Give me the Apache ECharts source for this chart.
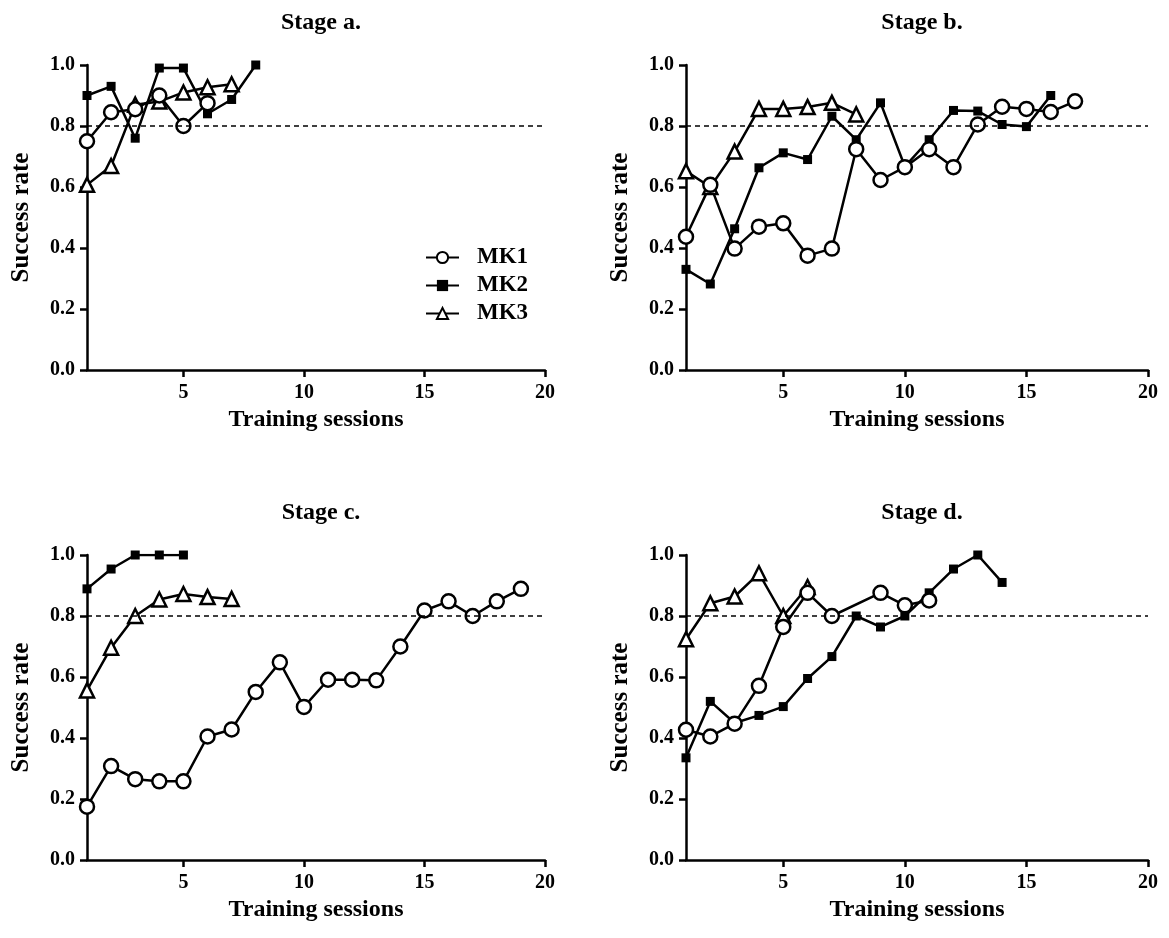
<!DOCTYPE html>
<html lang="en">
<head>
    <meta charset="UTF-8">
    <title>Success rate by stage</title>
    <style>
        body { margin: 0; background: #fff; }
        #chart { width: 1169px; height: 938px; }
    </style>
</head>
<body>
    <div id="chart"></div>
    <script src="https://cdn.jsdelivr.net/npm/echarts@6/dist/echarts.min.js"></script>
    <script>
        // success rate per training session (session 1, 2, 3 ...), null = no session
        const stageA_MK1 = [0.75, 0.845, 0.855, 0.90, 0.80, 0.875];
        const stageA_MK2 = [0.90, 0.93, 0.76, 0.99, 0.99, 0.84, 0.887, 1.0];
        const stageA_MK3 = [0.607, 0.669, 0.87, 0.88, 0.91, 0.927, 0.937];

        const stageB_MK1 = [0.437, 0.607, 0.398, 0.47, 0.481, 0.375, 0.398, 0.724, 0.623, 0.665, 0.724, 0.665, 0.805, 0.863, 0.856, 0.846, 0.881];
        const stageB_MK2 = [0.33, 0.282, 0.463, 0.663, 0.712, 0.69, 0.832, 0.755, 0.876, 0.667, 0.755, 0.851, 0.849, 0.805, 0.798, 0.90];
        const stageB_MK3 = [0.652, 0.60, 0.716, 0.856, 0.856, 0.862, 0.876, 0.838];

        const stageC_MK1 = [0.175, 0.308, 0.265, 0.258, 0.258, 0.405, 0.428, 0.551, 0.648, 0.502, 0.591, 0.591, 0.589, 0.70, 0.818, 0.848, 0.80, 0.848, 0.889];
        const stageC_MK2 = [0.889, 0.954, 1.0, 1.0, 1.0];
        const stageC_MK3 = [0.556, 0.696, 0.80, 0.854, 0.872, 0.862, 0.856];

        const stageD_MK1 = [0.427, 0.405, 0.447, 0.571, 0.764, 0.876, 0.80, null, 0.876, 0.835, 0.851];
        const stageD_MK2 = [0.335, 0.52, 0.449, 0.474, 0.503, 0.595, 0.667, 0.80, 0.764, 0.80, 0.876, 0.954, 1.0, 0.91];
        const stageD_MK3 = [0.724, 0.842, 0.864, 0.94, 0.80, 0.895];

        const stageTitles = ['Stage a.', 'Stage b.', 'Stage c.', 'Stage d.'];
        const xTicks = [5, 10, 15, 20];
        const criterion = 0.8;

        const stages = [
            { MK1: stageA_MK1, MK2: stageA_MK2, MK3: stageA_MK3 },
            { MK1: stageB_MK1, MK2: stageB_MK2, MK3: stageB_MK3 },
            { MK1: stageC_MK1, MK2: stageC_MK2, MK3: stageC_MK3 },
            { MK1: stageD_MK1, MK2: stageD_MK2, MK3: stageD_MK3 }
        ];

        const font = 'Liberation Serif, Times New Roman, serif';
        const grids = [
            { left: 87, top: 65, width: 458, height: 305 },
            { left: 686, top: 65, width: 462, height: 305 },
            { left: 87, top: 555, width: 458, height: 305 },
            { left: 686, top: 555, width: 462, height: 305 }
        ];

        const markStyle = {
            MK1: { symbol: 'circle', symbolSize: 14, itemStyle: { color: '#fff', borderColor: '#000', borderWidth: 2.5 } },
            MK2: { symbol: 'rect', symbolSize: 9, itemStyle: { color: '#000', borderColor: '#000', borderWidth: 0 } },
            MK3: { symbol: 'triangle', symbolSize: 14, itemStyle: { color: '#fff', borderColor: '#000', borderWidth: 2.5 } }
        };

        function toPairs(values) {
            return values.map(function (v, i) { return [i + 1, v]; });
        }

        const axisLine = { show: true, lineStyle: { color: '#000', width: 2.5 } };
        const xAxes = [], yAxes = [], series = [], titles = [];

        grids.forEach(function (g, i) {
            titles.push({
                text: stageTitles[i],
                left: g.left + g.width / 2,
                top: g.top - 59,
                textAlign: 'center',
                textStyle: { fontFamily: font, fontWeight: 'bold', fontSize: 24, color: '#000' }
            });
            xAxes.push({
                gridIndex: i, type: 'value', min: 1, max: 20,
                name: 'Training sessions', nameLocation: 'middle', nameGap: 38,
                nameTextStyle: { fontFamily: font, fontWeight: 'bold', fontSize: 24, color: '#000' },
                axisLine: axisLine,
                axisTick: { show: true, length: 7, customValues: xTicks, lineStyle: { color: '#000', width: 2.5 } },
                axisLabel: { customValues: xTicks, margin: 13, fontFamily: font, fontWeight: 'bold', fontSize: 20, color: '#000' },
                splitLine: { show: false }
            });
            yAxes.push({
                gridIndex: i, type: 'value', min: 0, max: 1, interval: 0.2,
                name: 'Success rate', nameLocation: 'middle', nameGap: 53,
                nameTextStyle: { fontFamily: font, fontWeight: 'bold', fontSize: 25, color: '#000' },
                axisLine: axisLine,
                axisTick: { show: true, length: 7, lineStyle: { color: '#000', width: 2.5 } },
                axisLabel: {
                    margin: 12, fontFamily: font, fontWeight: 'bold', fontSize: 20, color: '#000',
                    formatter: function (v) { return v.toFixed(1); }
                },
                splitLine: { show: false }
            });

            // draw MK3 first so the open circles end up on top
            ['MK3', 'MK2', 'MK1'].forEach(function (name) {
                const s = {
                    name: name, type: 'line', xAxisIndex: i, yAxisIndex: i,
                    data: toPairs(stages[i][name]), connectNulls: true,
                    symbol: markStyle[name].symbol, symbolSize: markStyle[name].symbolSize,
                    showAllSymbol: true,
                    lineStyle: { color: '#000', width: 2.5 },
                    itemStyle: markStyle[name].itemStyle,
                    animation: false
                };
                if (name === 'MK3') {
                    s.markLine = {
                        silent: true, symbol: 'none', label: { show: false },
                        lineStyle: { color: '#000', type: [5, 4], width: 1.5 },
                        data: [{ yAxis: criterion }]
                    };
                }
                series.push(s);
            });
        });

        const chart = echarts.init(document.getElementById('chart'));
        chart.setOption({
            backgroundColor: '#fff',
            animation: false,
            title: titles,
            legend: {
                data: ['MK1', 'MK2', 'MK3'],
                orient: 'vertical', left: 420, top: 241,
                itemWidth: 33, itemHeight: 14, itemGap: 5,
                textStyle: { fontFamily: font, fontWeight: 'bold', fontSize: 23, color: '#000', padding: [0, 0, 0, 13] }
            },
            grid: grids,
            xAxis: xAxes,
            yAxis: yAxes,
            series: series
        });
    </script>
</body>
</html>
